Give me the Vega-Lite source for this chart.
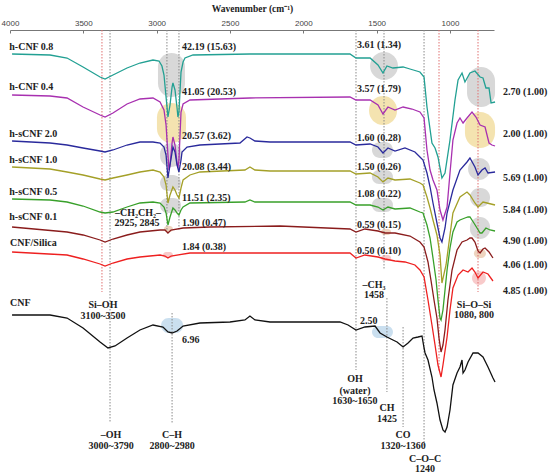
{
"$schema": "https://vega.github.io/schema/vega-lite/v6.json",
"width": 484, "height": 446,
"autosize": {"type": "none"},
"padding": {"left": 10, "top": 30, "right": 56, "bottom": 0},
"config": {"view": {"stroke": null}, "font": "Liberation Serif"},
"datasets": {
"spectra": [
{"s":"a","w":3986,"t":422},{"s":"a","w":3727,"t":421},{"s":"a","w":3611,"t":418},{"s":"a","w":3502,"t":409},{"s":"a","w":3386,"t":399},{"s":"a","w":3352,"t":397},{"s":"a","w":3298,"t":401},{"s":"a","w":3202,"t":408},{"s":"a","w":3114,"t":413},{"s":"a","w":3025,"t":416},{"s":"a","w":2984,"t":415},{"s":"a","w":2964,"t":410},{"s":"a","w":2950,"t":401},{"s":"a","w":2936,"t":379},{"s":"a","w":2923,"t":359},{"s":"a","w":2909,"t":371},{"s":"a","w":2895,"t":389},{"s":"a","w":2889,"t":393},{"s":"a","w":2875,"t":386},{"s":"a","w":2861,"t":368},{"s":"a","w":2855,"t":359},{"s":"a","w":2848,"t":364},{"s":"a","w":2834,"t":404},{"s":"a","w":2820,"t":414},{"s":"a","w":2807,"t":418},{"s":"a","w":2752,"t":421},{"s":"a","w":2364,"t":422},{"s":"a","w":1682,"t":422},{"s":"a","w":1641,"t":418},{"s":"a","w":1545,"t":418},{"s":"a","w":1491,"t":411},{"s":"a","w":1457,"t":403},{"s":"a","w":1430,"t":410},{"s":"a","w":1389,"t":408},{"s":"a","w":1320,"t":409},{"s":"a","w":1273,"t":407},{"s":"a","w":1205,"t":404},{"s":"a","w":1177,"t":399},{"s":"a","w":1157,"t":369},{"s":"a","w":1123,"t":333},{"s":"a","w":1102,"t":328},{"s":"a","w":1082,"t":319},{"s":"a","w":1055,"t":298},{"s":"a","w":1034,"t":303},{"s":"a","w":1000,"t":336},{"s":"a","w":966,"t":376},{"s":"a","w":945,"t":396},{"s":"a","w":918,"t":403},{"s":"a","w":898,"t":394},{"s":"a","w":864,"t":403},{"s":"a","w":830,"t":405},{"s":"a","w":795,"t":399},{"s":"a","w":775,"t":398},{"s":"a","w":755,"t":388},{"s":"a","w":734,"t":388},{"s":"a","w":720,"t":373},{"s":"a","w":693,"t":374},
{"s":"b","w":3986,"t":381},{"s":"b","w":3727,"t":380},{"s":"b","w":3611,"t":378},{"s":"b","w":3502,"t":369},{"s":"b","w":3386,"t":361},{"s":"b","w":3352,"t":359},{"s":"b","w":3298,"t":363},{"s":"b","w":3202,"t":372},{"s":"b","w":3114,"t":377},{"s":"b","w":3025,"t":378},{"s":"b","w":2977,"t":374},{"s":"b","w":2950,"t":366},{"s":"b","w":2936,"t":351},{"s":"b","w":2923,"t":321},{"s":"b","w":2916,"t":306},{"s":"b","w":2909,"t":311},{"s":"b","w":2895,"t":333},{"s":"b","w":2889,"t":339},{"s":"b","w":2875,"t":331},{"s":"b","w":2861,"t":313},{"s":"b","w":2855,"t":308},{"s":"b","w":2848,"t":316},{"s":"b","w":2834,"t":364},{"s":"b","w":2820,"t":372},{"s":"b","w":2773,"t":376},{"s":"b","w":2364,"t":378},{"s":"b","w":1682,"t":379},{"s":"b","w":1641,"t":376},{"s":"b","w":1545,"t":376},{"s":"b","w":1491,"t":371},{"s":"b","w":1457,"t":362},{"s":"b","w":1423,"t":369},{"s":"b","w":1375,"t":366},{"s":"b","w":1320,"t":369},{"s":"b","w":1259,"t":367},{"s":"b","w":1205,"t":364},{"s":"b","w":1177,"t":358},{"s":"b","w":1157,"t":326},{"s":"b","w":1136,"t":306},{"s":"b","w":1116,"t":296},{"s":"b","w":1089,"t":286},{"s":"b","w":1068,"t":266},{"s":"b","w":1048,"t":256},{"s":"b","w":1020,"t":269},{"s":"b","w":1000,"t":303},{"s":"b","w":980,"t":336},{"s":"b","w":952,"t":353},{"s":"b","w":932,"t":358},{"s":"b","w":911,"t":353},{"s":"b","w":884,"t":358},{"s":"b","w":850,"t":364},{"s":"b","w":823,"t":359},{"s":"b","w":795,"t":351},{"s":"b","w":761,"t":349},{"s":"b","w":734,"t":333},{"s":"b","w":714,"t":331},{"s":"b","w":693,"t":330},
{"s":"c","w":3986,"t":335},{"s":"c","w":3727,"t":333},{"s":"c","w":3611,"t":331},{"s":"c","w":3502,"t":328},{"s":"c","w":3386,"t":325},{"s":"c","w":3352,"t":324},{"s":"c","w":3298,"t":326},{"s":"c","w":3202,"t":331},{"s":"c","w":3114,"t":334},{"s":"c","w":3025,"t":334},{"s":"c","w":2977,"t":333},{"s":"c","w":2950,"t":329},{"s":"c","w":2936,"t":321},{"s":"c","w":2923,"t":298},{"s":"c","w":2909,"t":311},{"s":"c","w":2889,"t":329},{"s":"c","w":2875,"t":324},{"s":"c","w":2861,"t":311},{"s":"c","w":2848,"t":304},{"s":"c","w":2834,"t":316},{"s":"c","w":2827,"t":324},{"s":"c","w":2793,"t":329},{"s":"c","w":2705,"t":331},{"s":"c","w":2432,"t":333},{"s":"c","w":2384,"t":339},{"s":"c","w":2364,"t":338},{"s":"c","w":2330,"t":335},{"s":"c","w":2227,"t":334},{"s":"c","w":1682,"t":334},{"s":"c","w":1641,"t":331},{"s":"c","w":1545,"t":332},{"s":"c","w":1491,"t":329},{"s":"c","w":1457,"t":323},{"s":"c","w":1423,"t":328},{"s":"c","w":1375,"t":325},{"s":"c","w":1307,"t":328},{"s":"c","w":1239,"t":324},{"s":"c","w":1205,"t":319},{"s":"c","w":1184,"t":316},{"s":"c","w":1157,"t":303},{"s":"c","w":1136,"t":289},{"s":"c","w":1116,"t":273},{"s":"c","w":1089,"t":253},{"s":"c","w":1068,"t":238},{"s":"c","w":1055,"t":234},{"s":"c","w":1034,"t":248},{"s":"c","w":1020,"t":263},{"s":"c","w":980,"t":286},{"s":"c","w":932,"t":306},{"s":"c","w":884,"t":314},{"s":"c","w":864,"t":318},{"s":"c","w":830,"t":309},{"s":"c","w":809,"t":301},{"s":"c","w":782,"t":306},{"s":"c","w":761,"t":308},{"s":"c","w":741,"t":303},{"s":"c","w":693,"t":304},
{"s":"d","w":3986,"t":309},{"s":"d","w":3727,"t":307},{"s":"d","w":3611,"t":304},{"s":"d","w":3502,"t":301},{"s":"d","w":3386,"t":297},{"s":"d","w":3352,"t":296},{"s":"d","w":3298,"t":298},{"s":"d","w":3202,"t":301},{"s":"d","w":3114,"t":304},{"s":"d","w":3025,"t":306},{"s":"d","w":2977,"t":304},{"s":"d","w":2950,"t":299},{"s":"d","w":2936,"t":291},{"s":"d","w":2923,"t":273},{"s":"d","w":2909,"t":281},{"s":"d","w":2889,"t":289},{"s":"d","w":2875,"t":286},{"s":"d","w":2861,"t":281},{"s":"d","w":2848,"t":278},{"s":"d","w":2834,"t":288},{"s":"d","w":2820,"t":296},{"s":"d","w":2773,"t":301},{"s":"d","w":2705,"t":304},{"s":"d","w":2398,"t":306},{"s":"d","w":2364,"t":309},{"s":"d","w":2330,"t":306},{"s":"d","w":2227,"t":305},{"s":"d","w":1682,"t":305},{"s":"d","w":1641,"t":302},{"s":"d","w":1545,"t":303},{"s":"d","w":1491,"t":299},{"s":"d","w":1457,"t":294},{"s":"d","w":1423,"t":298},{"s":"d","w":1375,"t":296},{"s":"d","w":1273,"t":297},{"s":"d","w":1205,"t":293},{"s":"d","w":1184,"t":291},{"s":"d","w":1157,"t":279},{"s":"d","w":1136,"t":268},{"s":"d","w":1116,"t":256},{"s":"d","w":1089,"t":241},{"s":"d","w":1068,"t":221},{"s":"d","w":1055,"t":193},{"s":"d","w":1027,"t":211},{"s":"d","w":1000,"t":241},{"s":"d","w":980,"t":263},{"s":"d","w":932,"t":279},{"s":"d","w":884,"t":284},{"s":"d","w":864,"t":281},{"s":"d","w":830,"t":273},{"s":"d","w":809,"t":269},{"s":"d","w":775,"t":274},{"s":"d","w":748,"t":273},{"s":"d","w":693,"t":271},
{"s":"e","w":3986,"t":277},{"s":"e","w":3727,"t":276},{"s":"e","w":3611,"t":274},{"s":"e","w":3502,"t":270},{"s":"e","w":3386,"t":264},{"s":"e","w":3352,"t":263},{"s":"e","w":3298,"t":264},{"s":"e","w":3202,"t":269},{"s":"e","w":3114,"t":273},{"s":"e","w":3025,"t":274},{"s":"e","w":2977,"t":273},{"s":"e","w":2950,"t":269},{"s":"e","w":2936,"t":263},{"s":"e","w":2923,"t":251},{"s":"e","w":2909,"t":259},{"s":"e","w":2889,"t":268},{"s":"e","w":2875,"t":266},{"s":"e","w":2861,"t":263},{"s":"e","w":2848,"t":261},{"s":"e","w":2834,"t":266},{"s":"e","w":2820,"t":269},{"s":"e","w":2773,"t":273},{"s":"e","w":2398,"t":274},{"s":"e","w":2364,"t":276},{"s":"e","w":2330,"t":274},{"s":"e","w":2227,"t":274},{"s":"e","w":1682,"t":274},{"s":"e","w":1641,"t":271},{"s":"e","w":1545,"t":271},{"s":"e","w":1491,"t":269},{"s":"e","w":1457,"t":266},{"s":"e","w":1423,"t":269},{"s":"e","w":1375,"t":267},{"s":"e","w":1273,"t":268},{"s":"e","w":1205,"t":264},{"s":"e","w":1184,"t":263},{"s":"e","w":1157,"t":251},{"s":"e","w":1136,"t":238},{"s":"e","w":1116,"t":218},{"s":"e","w":1095,"t":196},{"s":"e","w":1082,"t":176},{"s":"e","w":1068,"t":158},{"s":"e","w":1061,"t":156},{"s":"e","w":1048,"t":166},{"s":"e","w":1034,"t":186},{"s":"e","w":1020,"t":206},{"s":"e","w":1000,"t":228},{"s":"e","w":980,"t":244},{"s":"e","w":952,"t":254},{"s":"e","w":932,"t":256},{"s":"e","w":898,"t":258},{"s":"e","w":877,"t":259},{"s":"e","w":864,"t":259},{"s":"e","w":837,"t":253},{"s":"e","w":816,"t":248},{"s":"e","w":795,"t":243},{"s":"e","w":782,"t":243},{"s":"e","w":755,"t":248},{"s":"e","w":727,"t":246},{"s":"e","w":693,"t":245},
{"s":"f","w":3986,"t":249},{"s":"f","w":3611,"t":244},{"s":"f","w":3502,"t":241},{"s":"f","w":3386,"t":236},{"s":"f","w":3352,"t":234},{"s":"f","w":3298,"t":237},{"s":"f","w":3202,"t":241},{"s":"f","w":3114,"t":244},{"s":"f","w":2977,"t":246},{"s":"f","w":2943,"t":246},{"s":"f","w":2923,"t":243},{"s":"f","w":2902,"t":246},{"s":"f","w":2820,"t":248},{"s":"f","w":2636,"t":249},{"s":"f","w":2159,"t":250},{"s":"f","w":1682,"t":247},{"s":"f","w":1641,"t":244},{"s":"f","w":1580,"t":247},{"s":"f","w":1491,"t":245},{"s":"f","w":1443,"t":243},{"s":"f","w":1375,"t":243},{"s":"f","w":1273,"t":240},{"s":"f","w":1205,"t":234},{"s":"f","w":1177,"t":229},{"s":"f","w":1150,"t":214},{"s":"f","w":1130,"t":196},{"s":"f","w":1109,"t":176},{"s":"f","w":1089,"t":158},{"s":"f","w":1075,"t":138},{"s":"f","w":1061,"t":124},{"s":"f","w":1048,"t":131},{"s":"f","w":1034,"t":146},{"s":"f","w":1014,"t":176},{"s":"f","w":986,"t":206},{"s":"f","w":952,"t":226},{"s":"f","w":918,"t":234},{"s":"f","w":884,"t":236},{"s":"f","w":864,"t":238},{"s":"f","w":850,"t":238},{"s":"f","w":830,"t":234},{"s":"f","w":809,"t":225},{"s":"f","w":795,"t":223},{"s":"f","w":775,"t":227},{"s":"f","w":761,"t":228},{"s":"f","w":734,"t":224},{"s":"f","w":707,"t":218},
{"s":"g","w":3986,"t":224},{"s":"g","w":3611,"t":221},{"s":"g","w":3502,"t":217},{"s":"g","w":3386,"t":212},{"s":"g","w":3352,"t":210},{"s":"g","w":3298,"t":213},{"s":"g","w":3202,"t":217},{"s":"g","w":3114,"t":219},{"s":"g","w":2977,"t":221},{"s":"g","w":2943,"t":220},{"s":"g","w":2923,"t":218},{"s":"g","w":2902,"t":220},{"s":"g","w":2773,"t":223},{"s":"g","w":2159,"t":223},{"s":"g","w":1682,"t":223},{"s":"g","w":1641,"t":218},{"s":"g","w":1580,"t":221},{"s":"g","w":1491,"t":219},{"s":"g","w":1443,"t":217},{"s":"g","w":1375,"t":215},{"s":"g","w":1307,"t":214},{"s":"g","w":1239,"t":211},{"s":"g","w":1205,"t":206},{"s":"g","w":1177,"t":199},{"s":"g","w":1150,"t":176},{"s":"g","w":1123,"t":151},{"s":"g","w":1102,"t":131},{"s":"g","w":1082,"t":111},{"s":"g","w":1061,"t":99},{"s":"g","w":1048,"t":111},{"s":"g","w":1020,"t":139},{"s":"g","w":1000,"t":166},{"s":"g","w":980,"t":188},{"s":"g","w":945,"t":201},{"s":"g","w":911,"t":206},{"s":"g","w":877,"t":204},{"s":"g","w":850,"t":208},{"s":"g","w":830,"t":204},{"s":"g","w":809,"t":198},{"s":"g","w":775,"t":204},{"s":"g","w":741,"t":202},{"s":"g","w":707,"t":195},
{"s":"h","w":3986,"t":161},{"s":"h","w":3727,"t":161},{"s":"h","w":3611,"t":158},{"s":"h","w":3502,"t":148},{"s":"h","w":3386,"t":134},{"s":"h","w":3332,"t":128},{"s":"h","w":3284,"t":130},{"s":"h","w":3202,"t":138},{"s":"h","w":3114,"t":146},{"s":"h","w":3025,"t":151},{"s":"h","w":2957,"t":149},{"s":"h","w":2923,"t":144},{"s":"h","w":2895,"t":143},{"s":"h","w":2861,"t":145},{"s":"h","w":2820,"t":150},{"s":"h","w":2705,"t":153},{"s":"h","w":2500,"t":154},{"s":"h","w":2398,"t":156},{"s":"h","w":2364,"t":160},{"s":"h","w":2330,"t":156},{"s":"h","w":2227,"t":154},{"s":"h","w":1750,"t":154},{"s":"h","w":1695,"t":151},{"s":"h","w":1641,"t":146},{"s":"h","w":1580,"t":149},{"s":"h","w":1511,"t":150},{"s":"h","w":1477,"t":143},{"s":"h","w":1430,"t":139},{"s":"h","w":1389,"t":136},{"s":"h","w":1361,"t":134},{"s":"h","w":1320,"t":129},{"s":"h","w":1286,"t":133},{"s":"h","w":1252,"t":138},{"s":"h","w":1218,"t":139},{"s":"h","w":1191,"t":140},{"s":"h","w":1177,"t":128},{"s":"h","w":1170,"t":123},{"s":"h","w":1150,"t":116},{"s":"h","w":1123,"t":99},{"s":"h","w":1109,"t":86},{"s":"h","w":1089,"t":73},{"s":"h","w":1068,"t":56},{"s":"h","w":1048,"t":46},{"s":"h","w":1034,"t":44},{"s":"h","w":1020,"t":49},{"s":"h","w":1000,"t":66},{"s":"h","w":980,"t":91},{"s":"h","w":952,"t":103},{"s":"h","w":932,"t":109},{"s":"h","w":918,"t":116},{"s":"h","w":911,"t":103},{"s":"h","w":898,"t":106},{"s":"h","w":877,"t":114},{"s":"h","w":843,"t":123},{"s":"h","w":809,"t":123},{"s":"h","w":775,"t":119},{"s":"h","w":741,"t":109},{"s":"h","w":707,"t":98},{"s":"h","w":693,"t":94}
],
"rules": [
{"w":3373,"t":446,"t2":184,"k":"red"},{"w":3318,"t":446,"t2":53,"k":"gray"},{"w":2930,"t":446,"t2":246,"k":"gray"},{"w":2848,"t":446,"t2":246,"k":"gray"},{"w":2895,"t":163,"t2":53,"k":"gray"},{"w":1641,"t":446,"t2":106,"k":"gray"},{"w":1450,"t":446,"t2":206,"k":"gray"},{"w":1430,"t":178,"t2":84,"k":"gray"},{"w":1320,"t":149,"t2":49,"k":"gray"},{"w":1177,"t":446,"t2":29,"k":"gray"},{"w":1075,"t":446,"t2":104,"k":"red"},{"w":809,"t":446,"t2":184,"k":"red"}
],
"regions": [
{"w":2991,"w2":2807,"t":423,"t2":379,"c":"gray"},{"w":2998,"w2":2800,"t":373,"t2":333,"c":"yellow"},{"w":2977,"w2":2827,"t":333,"t2":309,"c":"gray"},{"w":2977,"w2":2834,"t":301,"t2":285,"c":"gray"},{"w":2977,"w2":2834,"t":278,"t2":263,"c":"gray"},{"w":2950,"w2":2889,"t":250,"t2":244,"c":"orange"},{"w":2957,"w2":2889,"t":224,"t2":218,"c":"red"},{"w":2970,"w2":2820,"t":158,"t2":143,"c":"blue"},
{"w":1545,"w2":1355,"t":424,"t2":396,"c":"gray"},{"w":1552,"w2":1361,"t":380,"t2":351,"c":"yellow"},{"w":1532,"w2":1389,"t":334,"t2":318,"c":"gray"},{"w":1532,"w2":1389,"t":306,"t2":292,"c":"gray"},{"w":1532,"w2":1389,"t":278,"t2":264,"c":"gray"},{"w":1470,"w2":1402,"t":247,"t2":241,"c":"orange"},{"w":1470,"w2":1402,"t":221,"t2":215,"c":"red"},{"w":1532,"w2":1389,"t":150,"t2":138,"c":"blue"},
{"w":884,"w2":693,"t":409,"t2":369,"c":"gray"},{"w":898,"w2":693,"t":364,"t2":328,"c":"yellow"},{"w":877,"w2":727,"t":318,"t2":296,"c":"gray"},{"w":864,"w2":727,"t":288,"t2":269,"c":"gray"},{"w":864,"w2":727,"t":259,"t2":237,"c":"gray"},{"w":837,"w2":755,"t":227,"t2":218,"c":"orange"},{"w":850,"w2":755,"t":205,"t2":191,"c":"red"}
],
"labels": [
{"txt":"h-CNF 0.8","w":4005,"t":429,"a":"l"},{"txt":"h-CNF 0.4","w":4005,"t":389,"a":"l"},{"txt":"h-sCNF 2.0","w":4005,"t":342,"a":"l"},{"txt":"h-sCNF 1.0","w":4005,"t":316,"a":"l"},{"txt":"h-sCNF 0.5","w":4005,"t":284,"a":"l"},{"txt":"h-sCNF 0.1","w":4005,"t":259,"a":"l"},{"txt":"CNF/Silica","w":4000,"t":233,"a":"l"},{"txt":"CNF","w":4000,"t":173,"a":"l"},
{"txt":"42.19 (15.63)","w":2827,"t":429,"a":"l"},{"txt":"41.05 (20.53)","w":2827,"t":384,"a":"l"},{"txt":"20.57 (3.62)","w":2827,"t":340,"a":"l"},{"txt":"20.08 (3.44)","w":2827,"t":309,"a":"l"},{"txt":"11.51 (2.35)","w":2827,"t":278,"a":"l"},{"txt":"1.90 (0.47)","w":2827,"t":253,"a":"l"},{"txt":"1.84 (0.38)","w":2827,"t":229,"a":"l"},{"txt":"6.96","w":2827,"t":136,"a":"l"},
{"txt":"3.61 (1.34)","w":1634,"t":431,"a":"l"},{"txt":"3.57 (1.79)","w":1634,"t":387,"a":"l"},{"txt":"1.60 (0.28)","w":1634,"t":338,"a":"l"},{"txt":"1.50 (0.26)","w":1634,"t":309,"a":"l"},{"txt":"1.08 (0.22)","w":1634,"t":282,"a":"l"},{"txt":"0.59 (0.15)","w":1634,"t":251,"a":"l"},{"txt":"0.50 (0.10)","w":1634,"t":225,"a":"l"},{"txt":"2.50","w":1614,"t":155,"a":"l"},
{"txt":"2.70 (1.00)","w":638,"t":384,"a":"l"},{"txt":"2.00 (1.00)","w":638,"t":342,"a":"l"},{"txt":"5.69 (1.00)","w":638,"t":298,"a":"l"},{"txt":"5.84 (1.00)","w":638,"t":266,"a":"l"},{"txt":"4.90 (1.00)","w":638,"t":235,"a":"l"},{"txt":"4.06 (1.00)","w":638,"t":211,"a":"l"},{"txt":"4.85 (1.00)","w":638,"t":185,"a":"l"},
{"txt":"Si–OH","w":3366,"t":171,"a":"c"},{"txt":"3100~3500","w":3366,"t":160,"a":"c"},{"txt":"–OH","w":3311,"t":41,"a":"c"},{"txt":"3000~3790","w":3311,"t":30,"a":"c"},{"txt":"C–H","w":2895,"t":41,"a":"c"},{"txt":"2800~2980","w":2895,"t":30,"a":"c"},{"txt":"–CH₂CH₂–","w":3127,"t":263,"a":"c"},{"txt":"2925, 2845","w":3134,"t":253,"a":"c"},{"txt":"–CH₃","w":1518,"t":191,"a":"c"},{"txt":"1458","w":1518,"t":181,"a":"c"},{"txt":"OH","w":1648,"t":97,"a":"c"},{"txt":"(water)","w":1648,"t":85,"a":"c"},{"txt":"1630~1650","w":1648,"t":75,"a":"c"},{"txt":"CH","w":1430,"t":68,"a":"c"},{"txt":"1425","w":1430,"t":57,"a":"c"},{"txt":"CO","w":1320,"t":41,"a":"c"},{"txt":"1320~1360","w":1320,"t":30,"a":"c"},{"txt":"C–O–C","w":1170,"t":17,"a":"c"},{"txt":"1240","w":1170,"t":7,"a":"c"},{"txt":"Si–O–Si","w":836,"t":171,"a":"c"},{"txt":"1080, 800","w":836,"t":161,"a":"c"}
]
},
"encoding": {
"x": {"field": "w", "type": "quantitative", "scale": {"domain": [700, 4000], "reverse": true, "nice": false, "zero": false},
 "axis": {"orient": "top", "title": "Wavenumber (cm⁻¹)", "titleFont": "Liberation Serif", "titleFontWeight": "bold", "titleFontSize": 9.5, "titleColor": "#222", "titlePadding": 6, "values": [4000, 3500, 3000, 2500, 2000, 1500, 1000], "format": "d", "labelFont": "Liberation Sans", "labelFontSize": 8, "labelColor": "#444", "labelFlush": false, "labelOverlap": false, "labelPadding": 6, "tickSize": -3, "tickColor": "#777", "domainColor": "#777", "grid": false}},
"y": {"field": "t", "type": "quantitative", "scale": {"domain": [0, 446], "nice": false}, "axis": null}
},
"layer": [
{"data": {"name": "regions"}, "mark": {"type": "rect", "cornerRadius": 30, "opacity": 0.45},
 "encoding": {"x2": {"field": "w2"}, "y2": {"field": "t2"},
  "fill": {"field": "c", "type": "nominal", "legend": null, "scale": {"domain": ["gray", "yellow", "blue", "orange", "red"], "range": ["#a8a8a8", "#e6c050", "#8ab8dc", "#d9a070", "#f08a8a"]}}}},
{"data": {"name": "rules"}, "mark": {"type": "rule", "strokeDash": [1.5, 1.5], "strokeWidth": 1},
 "encoding": {"y2": {"field": "t2"},
  "stroke": {"field": "k", "type": "nominal", "legend": null, "scale": {"domain": ["a", "b", "c", "d", "e", "f", "g", "h", "gray", "red"], "range": ["#22a093", "#a830b0", "#2a2a9c", "#a4a028", "#38a02a", "#8a1c1c", "#ee2020", "#111111", "#8a8a8a", "#e07070"]}}}},
{"data": {"name": "spectra"}, "mark": {"type": "line", "strokeWidth": 1.3},
 "encoding": {"stroke": {"field": "s", "type": "nominal", "legend": null, "scale": {"domain": ["a", "b", "c", "d", "e", "f", "g", "h", "gray", "red"], "range": ["#22a093", "#a830b0", "#2a2a9c", "#a4a028", "#38a02a", "#8a1c1c", "#ee2020", "#111111", "#8a8a8a", "#e07070"]}}}},
{"data": {"name": "labels"}, "transform": [{"filter": "datum.a == 'l'"}], "mark": {"type": "text", "align": "left", "baseline": "middle", "font": "Liberation Serif", "fontWeight": "bold", "fontSize": 10, "color": "#222"},
 "encoding": {"text": {"field": "txt"}}},
{"data": {"name": "labels"}, "transform": [{"filter": "datum.a == 'c'"}], "mark": {"type": "text", "align": "center", "baseline": "middle", "font": "Liberation Serif", "fontWeight": "bold", "fontSize": 10, "color": "#222"},
 "encoding": {"text": {"field": "txt"}}}
]
}
